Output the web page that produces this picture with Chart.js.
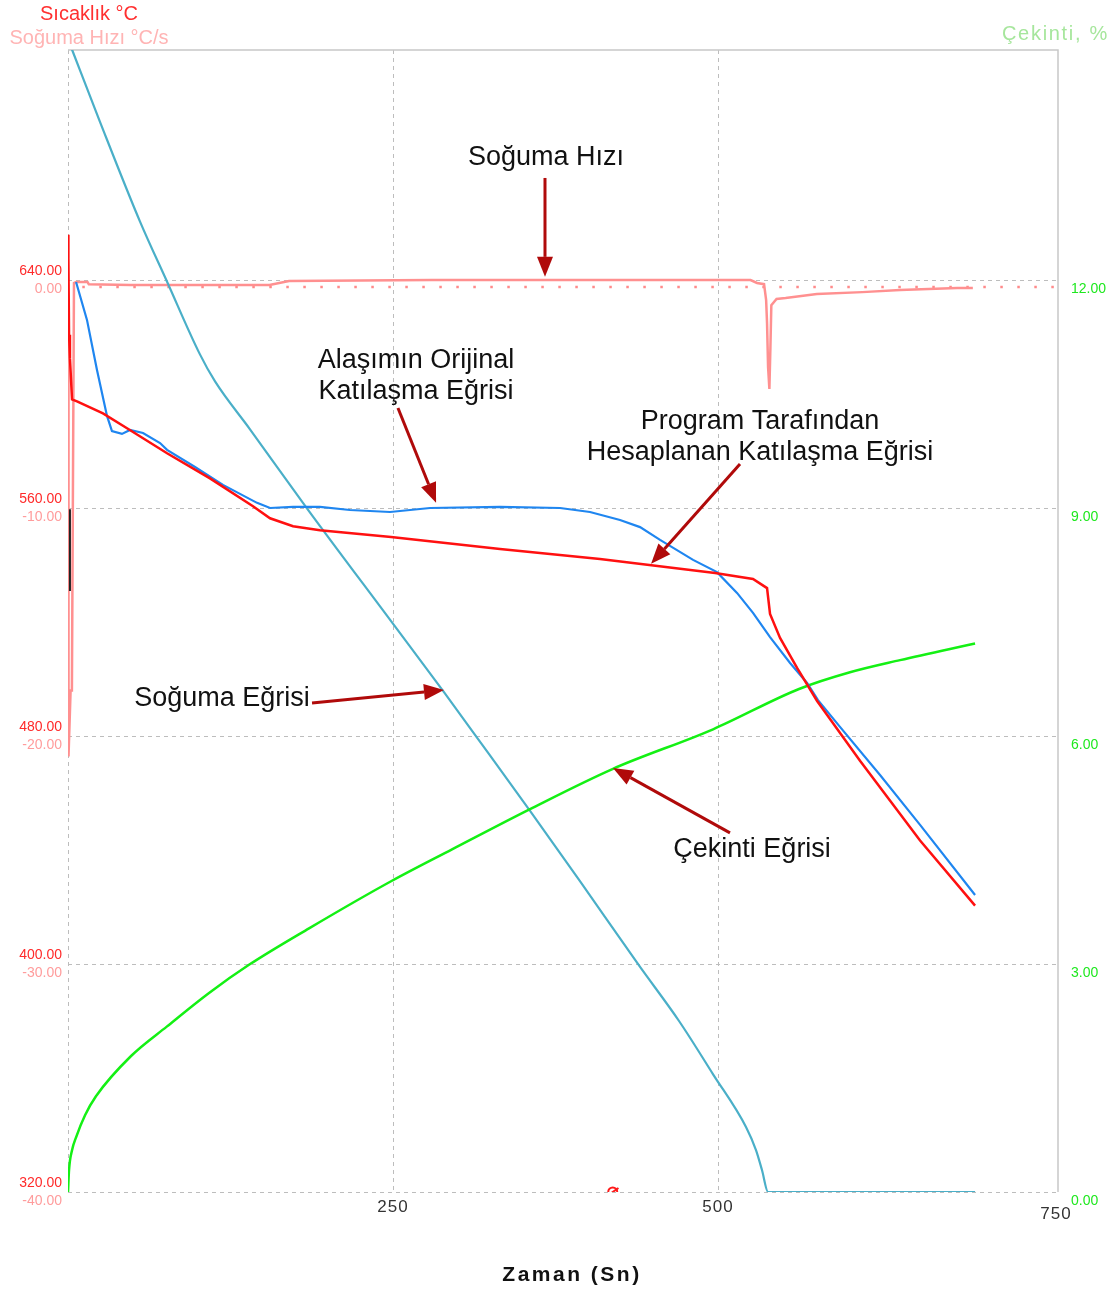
<!DOCTYPE html>
<html>
<head>
<meta charset="utf-8">
<title>Soğuma Eğrisi</title>
<script src="https://cdn.jsdelivr.net/npm/chart.js@4.4.1/dist/chart.umd.min.js"></script>
<style>
  html, body { margin: 0; padding: 0; background: #fff; }
  #wrap { width: 1118px; height: 1295px; }
</style>
</head>
<body>
<div id="wrap"><canvas id="chart" width="1118" height="1295"></canvas></div>
<script>
// Thermal analysis chart: cooling curve, cooling rate, solidification curves and shrinkage.

// axis ticks
const timeTicks = [250, 500];
const tempTicks = [320, 400, 480, 560, 640];
const rateTicks = [-40, -30, -20, -10, 0];
const shrinkTicks = [0, 3, 6, 9, 12];

// Soğuma Eğrisi (cooling curve, °C)
const coolTime = [0, 3.8, 24.6, 55.4, 76.2, 101.5, 113.1, 140, 183.8, 248.5, 289.2, 317.7, 355.4, 393.8, 439.2, 470, 496.2, 521.5, 529.2, 533.8, 538.5, 697.7];
const coolTemp = [724.5, 720, 695.5, 660.5, 639.4, 613.9, 604.4, 587.6, 559.9, 520.3, 495.4, 477.5, 453.7, 429.1, 399.5, 380.0, 361.3, 342.8, 334.7, 327.7, 320, 320];

// Program Tarafından Hesaplanan Katılaşma Eğrisi (°C)
const calcTime = [0, 0.3, 0.8, 1.5, 3.1, 6.9, 26.9, 45.4, 76.2, 109.2, 142.3, 155.4, 173.1, 193.8, 248.5, 332.3, 409.2, 497.7, 526.9, 537.7, 540, 547.7, 560.8, 576.2, 609.2, 655.4, 697.7];
const calcTemp = [655.9, 647.5, 620.8, 612.5, 598.1, 597.4, 593.2, 588.0, 579.2, 570.4, 560.6, 556.4, 553.6, 552.2, 549.8, 545.6, 542.1, 537.2, 535.1, 531.9, 522.8, 514.4, 503.9, 492.3, 471.3, 443.3, 420.5];

// Alaşımın Orijinal Katılaşma Eğrisi (°C)
const origTime = [6.2, 14.6, 22.3, 30, 33.8, 41.5, 47.7, 57.7, 70.8, 76.2, 97.7, 119.2, 145.4, 155.4, 173.1, 193.8, 216.9, 247.7, 278.5, 332.3, 378.5, 401.5, 424.6, 440, 455.4, 480.8, 499.2, 514.6, 526.9, 540, 555.4, 568.5, 576.9, 593.8, 624.6, 655.4, 697.7];
const origTemp = [639.3, 626.0, 608.4, 592.3, 587.0, 586.0, 587.4, 586.3, 582.8, 580.4, 574.4, 568.1, 561.8, 560.0, 560.4, 560.4, 559.3, 558.6, 560.0, 560.4, 560.0, 558.6, 555.8, 553.3, 548.8, 541.8, 537.5, 530.2, 523.2, 514.7, 505.6, 498.6, 492.6, 483.2, 466.3, 448.8, 424.2];

// short black trace at the start (°C)
const startTime = [1.5, 1.5];
const startTemp = [559.6, 530.9];

// Soğuma Hızı (cooling rate, °C/s)
const rateTime = [0, 0.4, 2, 3, 4.6, 6.2, 15, 16, 48, 155, 170, 280, 420, 525, 530, 535.4, 537, 537.7, 538.5, 539.5, 540.3, 541, 545, 552, 576, 611, 640, 684, 696];
const rateValue = [-1.75, -20.9, -18.0, -18.0, -0.13, -0.09, -0.09, -0.18, -0.22, -0.22, -0.04, 0, 0, 0, -0.13, -0.18, -0.88, -1.89, -3.82, -4.78, -2.94, -1.1, -0.83, -0.79, -0.61, -0.53, -0.44, -0.35, -0.35];

// dotted cooling-rate reference line
const refTime = [11, 761.5];
const refRate = [-0.3, -0.3];

// Çekinti (shrinkage, %)
const shrinkTime = [0, 0.8, 3.1, 6.2, 13.1, 21.5, 48.5, 76.2, 108.5, 139.2, 185.4, 248.5, 295.4, 355.4, 419.2, 496.2, 562.3, 601.5, 640, 697.7];
const shrinkValue = [0, 0.29, 0.55, 0.72, 1.01, 1.26, 1.79, 2.18, 2.62, 2.99, 3.47, 4.09, 4.51, 5.04, 5.57, 6.09, 6.62, 6.84, 7.0, 7.22];

// cursor marker on the time axis
const markerTime = [419];
const markerTemp = [320];

// callouts: text lines and arrow (time, °C)
const callouts = [
  { lines: ['Soğuma Hızı'], at: [367.7, 682.8], from: [366.9, 675.8], to: [366.9, 641.1] },
  { lines: ['Alaşımın Orijinal', 'Katılaşma Eğrisi'], at: [267.7, 606.2], from: [253.8, 595.1], to: [283.1, 561.8] },
  { lines: ['Program Tarafından', 'Hesaplanan Katılaşma Eğrisi'], at: [532.3, 584.8], from: [516.9, 575.4], to: [448.5, 540.4] },
  { lines: ['Soğuma Eğrisi'], at: [118.5, 493.3], from: [187.7, 491.6], to: [289.2, 496.1] },
  { lines: ['Çekinti Eğrisi'], at: [526.2, 440.0], from: [509.2, 446.0], to: [419.2, 468.8] }
];

function pts(xs, ys) {
  return xs.map((x, i) => ({ x, y: ys[i] }));
}

const FONT = '"Liberation Sans", Arial, sans-serif';

function drawArrow(ctx, x1, y1, x2, y2) {
  const ang = Math.atan2(y2 - y1, x2 - x1);
  const len = 20, half = 8;
  const bx = x2 - Math.cos(ang) * len, by = y2 - Math.sin(ang) * len;
  ctx.strokeStyle = '#b00a0a';
  ctx.fillStyle = '#b00a0a';
  ctx.lineWidth = 3;
  ctx.beginPath();
  ctx.moveTo(x1, y1);
  ctx.lineTo(bx, by);
  ctx.stroke();
  ctx.beginPath();
  ctx.moveTo(x2, y2);
  ctx.lineTo(bx + Math.sin(ang) * half, by - Math.cos(ang) * half);
  ctx.lineTo(bx - Math.sin(ang) * half, by + Math.cos(ang) * half);
  ctx.closePath();
  ctx.fill();
}

const framePlugin = {
  id: 'frame',
  beforeDatasetsDraw(chart) {
    const { ctx, chartArea: a, scales } = chart;
    ctx.save();
    ctx.strokeStyle = '#bdbdbd';
    ctx.lineWidth = 1;
    ctx.setLineDash([4, 4]);
    tempTicks.forEach((v) => {
      const y = Math.round(scales.yT.getPixelForValue(v)) + 0.5;
      ctx.beginPath();
      ctx.moveTo(a.left, y);
      ctx.lineTo(a.right, y);
      ctx.stroke();
    });
    [0].concat(timeTicks).forEach((v) => {
      const x = Math.round(scales.x.getPixelForValue(v)) + 0.5;
      ctx.beginPath();
      ctx.moveTo(x, a.top);
      ctx.lineTo(x, a.bottom);
      ctx.stroke();
    });
    ctx.setLineDash([]);
    ctx.strokeStyle = '#c8c8c8';
    ctx.lineWidth = 1.5;
    ctx.beginPath();
    ctx.moveTo(a.left, a.top);
    ctx.lineTo(a.right, a.top);
    ctx.lineTo(a.right, a.bottom);
    ctx.stroke();
    ctx.restore();
  },
  afterDraw(chart) {
    const { ctx, chartArea: a, scales } = chart;
    ctx.save();
    ctx.textBaseline = 'middle';

    // left tick labels: temperature above, rate below each grid line
    ctx.font = '14px ' + FONT;
    ctx.textAlign = 'right';
    tempTicks.forEach((v, i) => {
      const y = scales.yT.getPixelForValue(v);
      ctx.fillStyle = '#ff2a2a';
      ctx.fillText(v.toFixed(2), a.left - 6, y - 9);
      ctx.fillStyle = '#ff9c9c';
      ctx.fillText(rateTicks[i].toFixed(2), a.left - 6, scales.yR.getPixelForValue(rateTicks[i]) + 9);
    });

    // right tick labels: shrinkage
    ctx.textAlign = 'left';
    ctx.fillStyle = '#1ee81e';
    shrinkTicks.forEach((v) => {
      ctx.fillText(v.toFixed(2), a.right + 13, scales.yS.getPixelForValue(v) + 9);
    });

    // time tick labels
    ctx.font = '17px ' + FONT;
    ctx.letterSpacing = '1px';
    ctx.textAlign = 'center';
    ctx.fillStyle = '#333';
    timeTicks.forEach((v) => {
      ctx.fillText(String(v), scales.x.getPixelForValue(v), a.bottom + 15);
    });
    ctx.fillText('750', a.right - 2, a.bottom + 22);

    // axis titles
    ctx.font = 'bold 21px ' + FONT;
    ctx.letterSpacing = '2.5px';
    ctx.fillStyle = '#111';
    ctx.fillText('Zaman (Sn)', (a.left + a.right) / 2 + 9, a.bottom + 83);
    ctx.letterSpacing = '0px';
    ctx.font = '20px ' + FONT;
    ctx.fillStyle = '#ff3030';
    ctx.fillText('Sıcaklık °C', 89, 14);
    ctx.fillStyle = '#ffb4b4';
    ctx.fillText('Soğuma Hızı °C/s', 89, 38);
    ctx.textAlign = 'right';
    ctx.letterSpacing = '1.7px';
    ctx.fillStyle = '#a6e69c';
    ctx.fillText('Çekinti, %', 1109, 34);
    ctx.letterSpacing = '0px';

    // callouts
    ctx.font = '27px ' + FONT;
    ctx.textAlign = 'center';
    callouts.forEach((c) => {
      const cx = scales.x.getPixelForValue(c.at[0]);
      const cy = scales.yT.getPixelForValue(c.at[1]);
      const n = c.lines.length;
      ctx.fillStyle = '#111';
      c.lines.forEach((t, i) => {
        ctx.fillText(t, cx, cy + (i - (n - 1) / 2) * 31);
      });
      drawArrow(ctx,
        scales.x.getPixelForValue(c.from[0]), scales.yT.getPixelForValue(c.from[1]),
        scales.x.getPixelForValue(c.to[0]), scales.yT.getPixelForValue(c.to[1]));
    });
    ctx.restore();
  }
};

const line = (label, data, color, width, yAxisID, order, extra) => Object.assign({
  label, data, borderColor: color, borderWidth: width, yAxisID, order,
  pointRadius: 0, fill: false, tension: 0
}, extra || {});

new Chart(document.getElementById('chart'), {
  type: 'line',
  data: {
    datasets: [
      line('Çekinti', pts(shrinkTime, shrinkValue), '#14f014', 2.5, 'yS', 5, { cubicInterpolationMode: 'monotone' }),
      line('Soğuma Eğrisi', pts(coolTime, coolTemp), '#4aafc8', 2.2, 'yT', 6, { cubicInterpolationMode: 'monotone' }),
      line('Soğuma Hızı', pts(rateTime, rateValue), '#ff9090', 2.5, 'yR', 7),
      line('ref', pts(refTime, refRate), '#ff8a8a', 2.5, 'yR', 8, { borderDash: [2.5, 14.5] }),
      line('Orijinal', pts(origTime, origTemp), '#1f86f0', 2.2, 'yT', 3),
      line('Hesaplanan', pts(calcTime, calcTemp), '#ff1010', 2.5, 'yT', 2),
      line('start', pts(startTime, startTemp), '#222', 2, 'yT', 1),
      {
        label: 'marker', data: pts(markerTime.concat(markerTime), markerTemp.concat(markerTemp)),
        yAxisID: 'yT', order: 0, showLine: false,
        pointStyle: ['circle', 'line'], pointRotation: [0, -35], pointRadius: [4.5, 7],
        borderColor: '#ff1a1a', backgroundColor: 'rgba(0,0,0,0)', pointBorderWidth: 2
      }
    ]
  },
  options: {
    responsive: false,
    animation: false,
    layout: { padding: { left: 68, right: 60, top: 50, bottom: 103 } },
    plugins: { legend: { display: false }, tooltip: { enabled: false } },
    scales: {
      x: { type: 'linear', min: 0, max: 761.5, display: false },
      yT: { type: 'linear', min: 320, max: 720.7, display: false },
      yR: { type: 'linear', min: -40, max: 10.09, display: false },
      yS: { type: 'linear', min: 0, max: 15.03, display: false }
    }
  },
  plugins: [framePlugin]
});
</script>
</body>
</html>
